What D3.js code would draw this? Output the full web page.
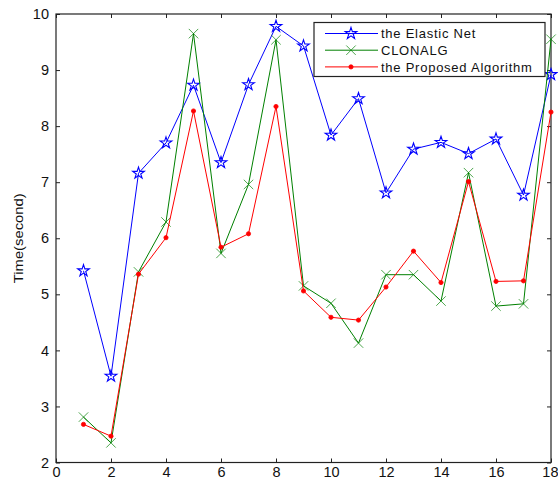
<!DOCTYPE html>
<html><head><meta charset="utf-8">
<script src="https://cdn.jsdelivr.net/npm/d3@7"></script>
<style>body{margin:0;background:#fff}svg{display:block}text{font-family:"Liberation Sans",Arial,sans-serif}</style>
</head><body>
<svg id="c" width="558" height="480"></svg>
<script>
const xs = [1,2,3,4,5,6,7,8,9,10,11,12,13,14,15,16,17,18];
const elasticNet = [5.42,3.54,7.16,7.70,8.73,7.35,8.74,9.78,9.43,7.84,8.49,6.81,7.59,7.71,7.51,7.77,6.77,8.92];
const clonalg = [2.81,2.35,5.40,6.29,9.65,5.73,6.96,9.54,5.15,4.84,4.13,5.35,5.35,4.88,7.17,4.79,4.83,9.55];
const proposed = [2.68,2.47,5.36,6.01,8.27,5.84,6.08,8.35,5.06,4.59,4.54,5.13,5.77,5.21,7.01,5.23,5.24,8.25];
const xTicks = [0,2,4,6,8,10,12,14,16,18];
const yTicks = [2,3,4,5,6,7,8,9,10];
const seriesNames = ["the Elastic Net","CLONALG","the Proposed Algorithm"];

const svg = d3.select("#c");
const L=56, R=551, T=14, B=462.5;
const x = d3.scaleLinear().domain([0,18]).range([L,R]);
const y = d3.scaleLinear().domain([2,10]).range([B,T]);

const g = svg.append("g");
g.append("rect").attr("x",L).attr("y",T).attr("width",R-L).attr("height",B-T)
 .attr("fill","none").attr("stroke","#222").attr("stroke-width",1.2);

const fmt = d3.format("d");
const ax = d3.axisBottom(x).tickValues(xTicks).tickSize(-4).tickPadding(4).tickFormat(fmt);
const ay = d3.axisLeft(y).tickValues(yTicks).tickSize(-4).tickPadding(7).tickFormat(fmt);
const gx = g.append("g").attr("transform",`translate(0,${B})`).call(ax);
const gy = g.append("g").attr("transform",`translate(${L},0)`).call(ay);
const gxt = g.append("g").attr("transform",`translate(0,${T})`).call(d3.axisTop(x).tickValues(xTicks).tickSize(-4).tickFormat(""));
const gyr = g.append("g").attr("transform",`translate(${R},0)`).call(d3.axisRight(y).tickValues(yTicks).tickSize(-4).tickFormat(""));
[gx,gy,gxt,gyr].forEach(a=>{a.select(".domain").remove();a.selectAll("line").attr("stroke","#222");
  a.selectAll("text").attr("fill","#111").style("font-size","14.5px").style("font-family","'Liberation Sans',Arial,sans-serif");});
gx.selectAll("text").attr("dy","0.71em");
// keep the last x label inside the page, as in the reference
gx.selectAll(".tick").filter(d=>d===x.domain()[1]).select("text").attr("text-anchor","end").attr("dx","7px");

svg.append("text").attr("transform",`translate(23,${(T+B)/2}) rotate(-90)`)
 .attr("text-anchor","middle").style("font-size","13.5px").attr("fill","#111")
 .attr("textLength",90).attr("lengthAdjust","spacingAndGlyphs").text("Time(second)");

const star = d3.symbol().type(d3.symbolStar).size(42);
const cross = d3.symbol().type(d3.symbolX).size(60);
const line = d3.line().x((d,i)=>x(xs[i])).y(d=>y(d));

function drawMarker(sel,color,kind){
  if(kind==="star") sel.attr("d",star).attr("fill","none").attr("stroke",color).attr("stroke-width",1.1);
  else if(kind==="x") sel.attr("d",cross).attr("fill","none").attr("stroke",color).attr("stroke-width",0.7);
  else sel.attr("d",d3.symbol().type(d3.symbolCircle).size(14)).attr("fill",color).attr("stroke",color).attr("stroke-width",0.8);
}
function drawSeries(data,color,kind){
  const s = svg.append("g");
  s.append("path").attr("d",line(data)).attr("fill","none").attr("stroke",color).attr("stroke-width",1);
  s.selectAll("path.m").data(data).join("path").attr("class","m")
   .attr("transform",(d,i)=>`translate(${x(xs[i])},${y(d)})`)
   .each(function(){drawMarker(d3.select(this),color,kind);});
}
drawSeries(elasticNet,"#0000ff","star");
drawSeries(clonalg,"#008000","x");
drawSeries(proposed,"#ff0000","dot");

const lg = svg.append("g");
lg.append("rect").attr("x",314).attr("y",22.5).attr("width",231).attr("height",54)
 .attr("fill","#fff").attr("stroke","#222").attr("stroke-width",1.2);
const colors=["#0000ff","#008000","#ff0000"], kinds=["star","x","dot"];
seriesNames.forEach((n,i)=>{
  const yy = 33.5 + i*16.7;
  lg.append("line").attr("x1",325).attr("x2",378).attr("y1",yy).attr("y2",yy).attr("stroke",colors[i]).attr("stroke-width",1);
  const m = lg.append("path").attr("transform",`translate(351,${yy})`);
  drawMarker(m,colors[i],kinds[i]);
  lg.append("text").attr("x",381).attr("y",yy).attr("dy","0.36em").style("font-size","13px")
    .style("letter-spacing","0.75px").attr("fill","#111").text(n);
});
</script>
</body></html>
